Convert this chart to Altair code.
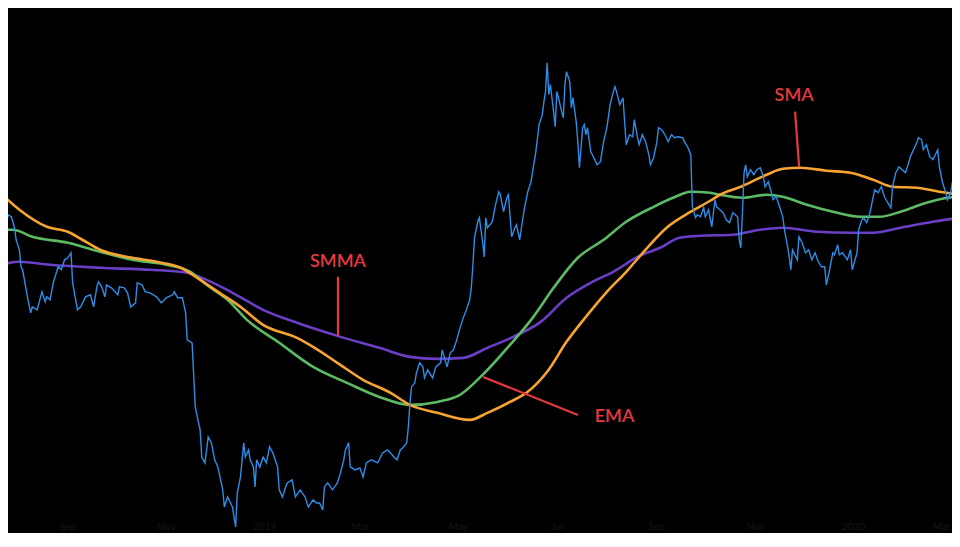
import math
import altair as alt
import pandas as pd

# ---------------- data ----------------
BASE_DATE = "2018-07-21"  # day 0

# closing price (USD), day offsets from BASE_DATE
price_days = [
    0, 2, 4, 5, 7, 9, 10, 12, 13, 14, 17, 19, 20, 23, 26, 28, 29, 31, 33, 36,
    38, 40, 42, 44, 45, 48, 50, 53, 56, 58, 60, 61, 63, 65, 66, 69, 73, 74, 77, 79,
    81, 84, 85, 88, 90, 93, 97, 100, 103, 107, 108, 110, 113, 115, 116, 119, 121, 123, 124, 125,
    127, 129, 131, 133, 135, 138, 139, 141, 144, 146,
    147, 149, 151, 152, 154, 155, 157, 158, 159, 161, 163, 165, 167, 169, 172, 173, 175, 177, 178, 181,
    183, 186, 189, 191, 194, 196, 198, 200, 201, 203, 206, 209, 211, 213, 214, 216, 217, 220, 223, 225,
    227, 230, 234, 237, 240, 242, 244, 246, 248, 250, 252, 253, 254, 255, 257, 258, 260, 262, 263, 265,
    268, 270, 273, 274, 277, 279, 281, 283, 285, 287, 289, 291, 292, 293, 294, 296, 297, 299, 300, 301,
    302, 305, 307, 309, 310, 312, 314, 315, 317, 319, 320, 322, 324, 325, 327, 329, 330, 332, 334, 336,
    337, 338, 339, 340, 341, 343, 344, 345, 346, 348, 349, 350, 351, 353, 354, 355, 357, 358, 359, 361,
    362, 363, 364, 366, 367, 370, 372, 374, 376, 378, 380, 381, 382, 384, 386, 387, 388, 390, 392, 393,
    395, 396, 398, 400, 402, 403, 405, 407, 408, 410, 412, 414, 416, 418, 420, 423, 424, 426, 428, 429,
    431, 432, 434, 436, 437, 439, 441, 443, 444, 446, 448, 450, 452, 454, 457, 458, 459, 460, 461, 462,
    463, 465, 467, 469, 471, 473, 474, 476, 478, 479, 481, 483, 485, 486, 488, 489, 490, 491, 494, 495,
    497, 499, 501, 503, 505, 507, 509, 511, 512, 514, 516, 517, 519, 520, 522, 525, 527, 528, 531, 532,
    534, 535, 537, 539, 541, 542, 544, 546, 548, 550, 552, 553, 555, 557, 559, 561, 563, 564, 566, 568,
    569, 571, 572, 574, 576, 578, 581, 582, 584, 586, 587, 589, 590, 592, 594, 595,
]
price_close = [
    7430, 8426, 8008, 8252, 8202, 7937, 7657, 7430, 7061, 6998, 6454, 6152, 6263, 6208, 6552, 6358, 6454, 6397, 6731, 7061,
    6998, 7211, 7254, 7364, 6731, 6208, 6263, 6454, 6493, 6263, 6650, 6751, 6650, 6454, 6690, 6630, 6493, 6650, 6630, 6532,
    6263, 6339, 6731, 6690, 6552, 6532, 6454, 6339, 6435, 6493, 6552, 6435, 6435, 6152, 5674, 5624, 4642, 4425, 4333, 3996,
    3925, 4243, 4168, 3961, 3878, 3621, 3440, 3545, 3440, 3240,
    3588, 3764, 4168, 3996, 4081, 3961, 3878, 3653, 3961, 3878, 3996, 3925, 4118, 4045, 3878, 3621, 3545, 3653, 3697, 3731,
    3545, 3621, 3545, 3440, 3514, 3482, 3482, 3410, 3653, 3697, 3621, 3697, 3810, 3961, 4081, 4168, 3878, 3844, 3866, 3764,
    3925, 3961, 3925, 4045, 4081, 4045, 3996, 3961, 4081, 4118, 4168, 4372, 4698, 4928, 4988, 5140, 5297, 5233, 5063, 5186,
    5063, 5233, 5297, 5507, 5233, 5458, 5507, 5674, 5882, 6060, 6208, 6397, 6630, 7104, 7702, 8081, 8178, 7611, 7275, 8178,
    7937, 8081, 8502, 8841, 8761, 8327, 8682, 8761, 7725, 7937, 8008, 7657, 8178, 8426, 8841, 9110, 9387, 9966, 10805, 11134,
    11578, 11930, 13008, 11820, 12182, 11236, 10740, 11930, 11716, 11236, 11034, 12182, 12666, 12292, 11370, 11716, 10904, 10270, 9499, 10708,
    10805, 10486, 10708, 9966, 9877, 9585, 9672, 10270, 10708, 11473, 11930, 12108, 11930, 11473, 11716, 10904, 10177, 10486, 10423, 10969,
    10393, 10177, 10486, 10270, 9877, 9585, 9788, 10270, 10708, 10643, 10486, 10270, 10486, 10393, 10423, 10393, 10270, 10116, 9877, 8451,
    8178, 8252, 8202, 8426, 8202, 8376, 7960, 8631, 8451, 8376, 8302, 8129, 8057, 8302, 8202, 7657, 7475, 8302, 9358, 9585,
    9246, 9443, 9302, 9443, 9499, 9246, 8973, 9110, 8814, 8631, 8708, 8451, 8202, 7890, 7497, 7275, 6998, 7430, 7211, 7725,
    7588, 7364, 7430, 7211, 7364, 7168, 7061, 7061, 6690, 6998, 7364, 7319, 7543, 7319, 7364, 7211, 7430, 6998, 7364, 7890,
    8129, 8178, 8057, 8302, 8708, 8894, 8814, 8973, 8708, 8554, 8426, 8973, 9358, 9527, 9443, 9358, 9643, 9817, 10026, 10239,
    10393, 10331, 10026, 10177, 9817, 9730, 10026, 9527, 9082, 8814, 8631, 8814, 9082, 9219, 8973, 8129,
]

sma_days = [0, 12, 29, 42, 51, 62, 82, 97, 112, 124, 136, 149, 163, 184, 194, 209, 225, 242, 254, 271,
            291, 302, 316, 327, 339, 351, 364, 376, 388, 401, 413, 428, 440, 446, 459, 475, 485, 496, 512, 527,
            541, 553, 568, 582, 595]
sma_vals = [8814, 8376, 7960, 7843, 7657, 7430, 7254, 7168, 7040, 6791, 6532, 6263, 5935, 5708, 5556, 5297, 5033, 4841, 4670, 4560,
            4465, 4560, 4712, 4856, 5156, 5640, 6115, 6552, 6956, 7475, 7937, 8327, 8605, 8761, 8973, 9302, 9471, 9499, 9415, 9358,
            9164, 8973, 8947, 8841, 8761]

ema_days = [0, 8, 20, 42, 62, 82, 103, 118, 128, 141, 153, 173, 194, 215, 235, 254, 271, 285, 299, 316,
            330, 343, 358, 374, 388, 405, 417, 428, 440, 446, 460, 475, 485, 500, 516, 533, 545, 558, 574, 587, 595]
ema_vals = [7890, 7890, 7725, 7588, 7386, 7211, 7104, 6956, 6690, 6397, 6024, 5624, 5233, 4988, 4783, 4670, 4712, 4812, 5109, 5590,
            6060, 6630, 7254, 7657, 8081, 8451, 8682, 8841, 8814, 8761, 8682, 8761, 8708, 8502, 8327, 8202, 8202, 8327, 8554, 8682, 8708]

smma_days = [0, 12, 31, 62, 93, 116, 128, 143, 163, 184, 209, 235, 254, 271, 287, 302, 318, 335, 351, 367,
             380, 395, 409, 421, 434, 454, 471, 485, 506, 527, 541, 558, 578, 595]
smma_vals = [7104, 7168, 7104, 7040, 6998, 6936, 6791, 6552, 6208, 5971, 5742, 5540, 5392, 5360, 5376, 5540, 5725, 5988, 6435, 6751,
             6956, 7275, 7475, 7702, 7748, 7771, 7890, 7937, 7843, 7819, 7819, 7937, 8081, 8178]

tick_dates = ["2018-09-01", "2018-11-01", "2019-01-01", "2019-03-01", "2019-05-01",
              "2019-07-01", "2019-09-01", "2019-11-01", "2020-01-01"]
tick_labels = ["Sep", "Nov", "2019", "Mar", "May", "Jul", "Sep", "Nov", "2020"]
last_tick_date = ["2020-03-01"]
last_tick_label = ["Mar"]

# annotations: label anchors and leader lines (day offset, price)
ann_labels = ["SMMA", "EMA", "SMA"]
ann_day = [209.4, 380.7, 492.0]
ann_price = [7168, 4505, 11786]
lead_day1 = [209.4, 299.3, 492.6]
lead_price1 = [6852, 5078, 11236]
lead_day2 = [209.4, 358.1, 495.1]
lead_price2 = [5742, 4532, 9527]

# ---------------- build ----------------
base = pd.Timestamp(BASE_DATE)


def to_dates(days):
    return [base + pd.Timedelta(days=float(d)) for d in days]


W, H = 944, 525
PX_PER_DAY = 1.614


def dt(ts):
    return alt.DateTime(year=ts.year, month=ts.month, date=ts.day,
                        hours=ts.hour, minutes=ts.minute)


x_start = base + pd.Timedelta(days=8 / PX_PER_DAY)
x_end = base + pd.Timedelta(days=(8 + W) / PX_PER_DAY)
xscale = alt.Scale(domain=[dt(x_start), dt(x_end)])
# log price scale: 3240 at reference row 527, 334 px per e-fold
y_lo = 3240 * math.exp((527 - (8 + H)) / 334)
y_hi = 3240 * math.exp((527 - 8) / 334)
yscale = alt.Scale(type="log", domain=[y_lo, y_hi], nice=False)

price_df = pd.DataFrame({"date": to_dates(price_days), "value": price_close})
sma_df = pd.DataFrame({"date": to_dates(sma_days), "value": sma_vals})
ema_df = pd.DataFrame({"date": to_dates(ema_days), "value": ema_vals})
smma_df = pd.DataFrame({"date": to_dates(smma_days), "value": smma_vals})
tick_df = pd.DataFrame({"date": pd.to_datetime(tick_dates), "label": tick_labels})
last_tick_df = pd.DataFrame({"date": pd.to_datetime(last_tick_date), "label": last_tick_label})
ann_df = pd.DataFrame({"date": to_dates(ann_day), "value": ann_price, "label": ann_labels})
lead_df = pd.DataFrame({"d1": to_dates(lead_day1), "p1": lead_price1,
                        "d2": to_dates(lead_day2), "p2": lead_price2})

X = alt.X("date:T", scale=xscale, axis=None)
Y = alt.Y("value:Q", scale=yscale, axis=None)
RED = "#e5393f"
TICK_COLOR = "#161616"


def ma_line(df, color):
    return alt.Chart(df).mark_line(color=color, strokeWidth=2.6,
                                   interpolate="monotone", clip=True).encode(x=X, y=Y)


smma_line = ma_line(smma_df, "#6a3fc6")
ema_line = ma_line(ema_df, "#5dba62")
sma_line = ma_line(sma_df, "#f7a431")
price_line = alt.Chart(price_df).mark_line(color="#2e8de6", strokeWidth=1.4, clip=True).encode(x=X, y=Y)

ticks = alt.Chart(tick_df).mark_text(color=TICK_COLOR, fontSize=10, font="Lato",
                                     baseline="middle").encode(
    x=X, y=alt.value(519), text="label:N")
last_tick = alt.Chart(last_tick_df).mark_text(color=TICK_COLOR, fontSize=10, font="Lato",
                                              align="right", baseline="middle").encode(
    x=X, y=alt.value(519), text="label:N")

leaders = alt.Chart(lead_df).mark_rule(color=RED, strokeWidth=2.2, clip=True).encode(
    x=alt.X("d1:T", scale=xscale, axis=None),
    x2="d2:T",
    y=alt.Y("p1:Q", scale=yscale, axis=None),
    y2="p2:Q",
)
labels = alt.Chart(ann_df).mark_text(color=RED, font="Lato", fontSize=18, fontWeight=600,
                                     align="center", baseline="middle").encode(
    x=X, y=Y, text="label:N")

chart = alt.layer(
    ticks, last_tick, smma_line, ema_line, sma_line, price_line, leaders, labels
).properties(
    width=W, height=H, background="black", padding=0,
    autosize=alt.AutoSizeParams(type="none"),
).configure_view(stroke="transparent")

chart.save("out.html", embed_options={"renderer": "svg", "actions": False})
